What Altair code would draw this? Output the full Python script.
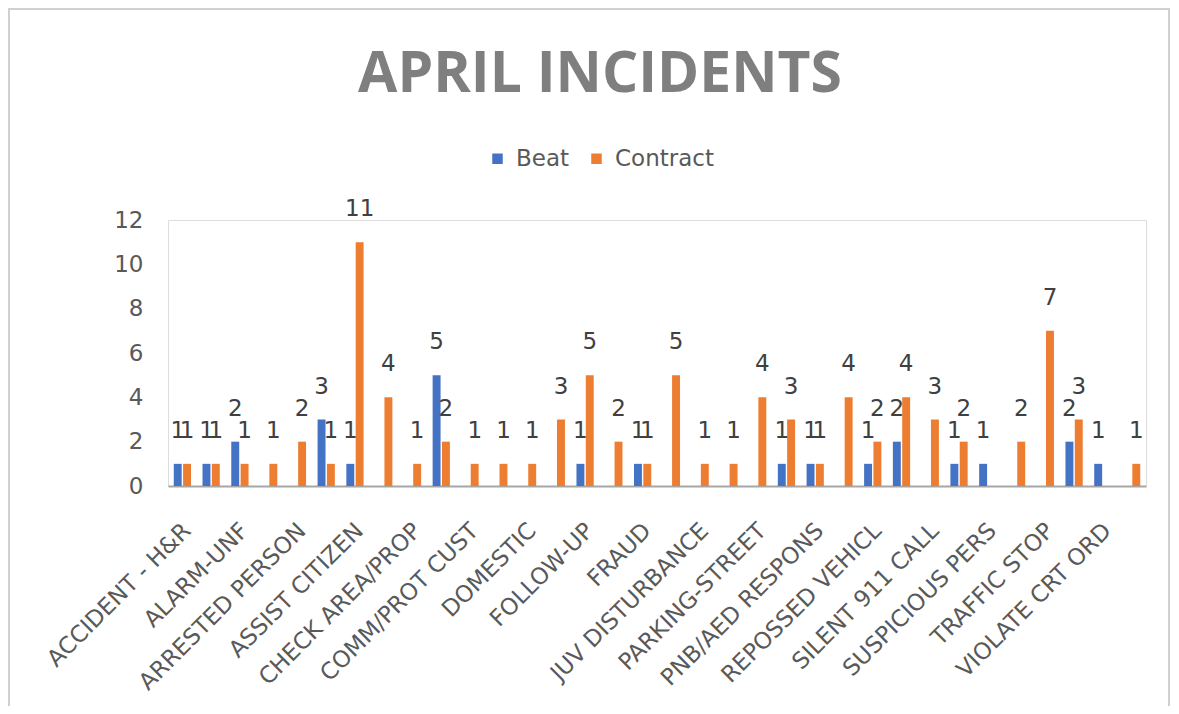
import altair as alt
import pandas as pd

categories = [
    "ACCIDENT - H&R", "ALARM-BURG", "ALARM-UNF", "ANIMAL CALL", "ARRESTED PERSON",
    "ASSIST AGENCY", "ASSIST CITIZEN", "BURGLARY", "CHECK AREA/PROP", "CIVIL MATTER",
    "COMM/PROT CUST", "DISTURBANCE", "DOMESTIC", "FIREWORKS", "FOLLOW-UP",
    "FOUND PROPERTY", "FRAUD", "INFORMATION", "JUV DISTURBANCE", "MISSING PERSON",
    "PARKING-STREET", "PATROL REQUEST", "PNB/AED RESPONS", "RECKLESS DRIVER", "REPOSSED VEHICL",
    "SHOPLIFTING", "SILENT 911 CALL", "SUSPICIOUS AUTO", "SUSPICIOUS PERS", "THEFT",
    "TRAFFIC STOP", "TRESPASSING", "VIOLATE CRT ORD", "WELFARE CHECK",
]
beat = [1, 1, 2, None, None, 3, 1, None, None, 5,
        None, None, None, None, 1, None, 1, None, None, None,
        None, 1, 1, None, 1, 2, None, 1, 1, None,
        None, 2, 1, None]
contract = [1, 1, 1, 1, 2, 1, 11, 4, 1, 2,
            1, 1, 1, 3, 5, 2, 1, 5, 1, 1,
            4, 3, 1, 4, 2, 4, 3, 2, None, 2,
            7, 3, None, 1]
series = ["Beat", "Contract"]
colors = ["#4472C4", "#ED7D31"]
y_ticks = [0, 2, 4, 6, 8, 10, 12]
shown_labels = categories[0::2]

df = pd.DataFrame({"category": categories, "Beat": beat, "Contract": contract})
long = df.melt(id_vars="category", var_name="series", value_name="value").dropna()

FONT = "DejaVu Sans"

x_enc = alt.X(
    "category:N",
    sort=categories,
    scale=alt.Scale(domain=categories, paddingInner=0.4, paddingOuter=0.2),
    axis=alt.Axis(
        title=None, values=shown_labels, labelAngle=-45, labelAlign="right",
        labelBaseline="top", labelPadding=33, labelOffset=-3, ticks=False,
        domainColor="#a6a6a6", domainWidth=2, labelFont=FONT, labelFontSize=23,
        labelColor="#595959", labelOverlap=False, labelLimit=400,
    ),
)
xo_enc = alt.XOffset("series:N", scale=alt.Scale(domain=series, paddingInner=0.15))
y_enc = alt.Y(
    "value:Q",
    scale=alt.Scale(domain=[0, 12], nice=False),
    axis=alt.Axis(
        title=None, values=y_ticks, domain=False, ticks=False, grid=False,
        labelFont=FONT, labelFontSize=23, labelColor="#595959", labelPadding=25,
    ),
)

base = alt.Chart(long)

bars = base.mark_bar().encode(
    x=x_enc,
    xOffset=xo_enc,
    y=y_enc,
    color=alt.Color(
        "series:N",
        scale=alt.Scale(domain=series, range=colors),
        legend=alt.Legend(
            title=None, orient="none", legendX=318, legendY=-73, direction="horizontal",
            symbolType="square", symbolSize=110, symbolStrokeWidth=0,
            labelFont=FONT, labelFontSize=23, labelColor="#595959",
            labelOffset=7, columnPadding=15, padding=0,
        ),
    ),
)

labels = base.mark_text(
    baseline="bottom", dy=-21, font=FONT, fontSize=23, color="#404040"
).encode(
    x=x_enc,
    xOffset=xo_enc,
    y=y_enc,
    text=alt.Text("value:Q", format="d"),
)

frame = alt.Chart(pd.DataFrame({"k": [0]})).mark_rect(
    fill=None, stroke="#d0d0d0", strokeWidth=2
).encode(
    x=alt.value(-159), x2=alt.value(1001), y=alt.value(-211), y2=alt.value(487)
)

chart = alt.layer(frame, bars, labels).properties(
    width=978,
    height=266,
    title=alt.Title(
        "APRIL INCIDENTS", font="Open Sans", fontSize=57, fontWeight="bold",
        color="#7f7f7f", anchor="middle", dx=-57, dy=96, offset=0,
    ),
    autosize=alt.AutoSizeParams(type="none"),
    padding={"left": 160, "top": 212, "right": 25, "bottom": 220},
).configure_view(stroke=None).configure(background="white")

chart.save("out.html", embed_options={"renderer": "svg", "actions": False})
